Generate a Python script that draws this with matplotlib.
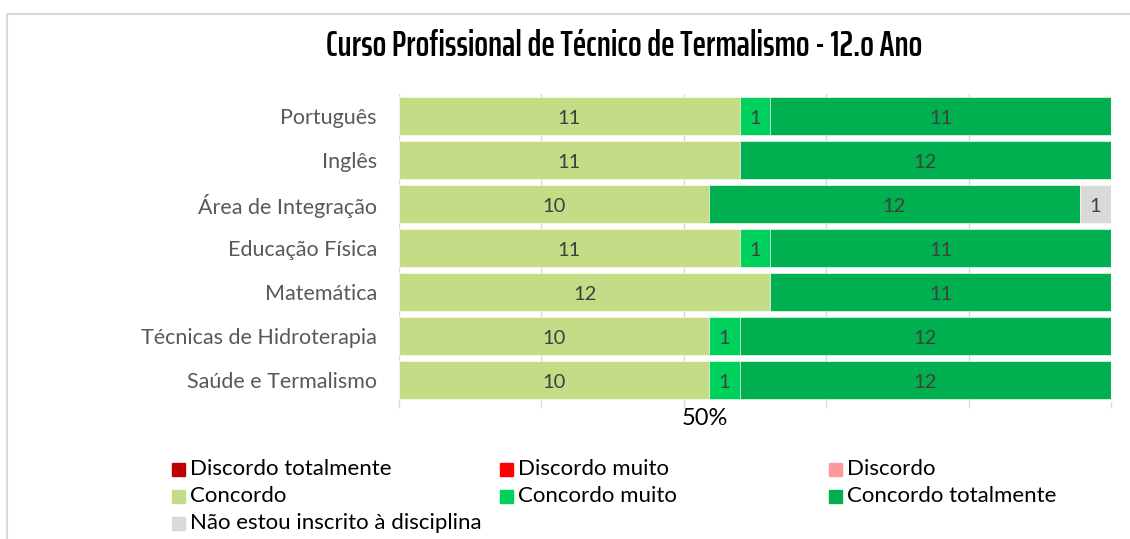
import matplotlib.pyplot as plt
import matplotlib.patches as patches
from matplotlib import font_manager
from matplotlib.textpath import TextToPath
import numpy as np

plt.rcParams['font.family'] = ['Lato', 'DejaVu Sans']

subjects = ['Português', 'Inglês', 'Área de Integração', 'Educação Física',
            'Matemática', 'Técnicas de Hidroterapia', 'Saúde e Termalismo']

series_names = ['Discordo totalmente', 'Discordo muito', 'Discordo',
                'Concordo', 'Concordo muito', 'Concordo totalmente',
                'Não estou inscrito à disciplina']
discordo_totalmente = [0, 0, 0, 0, 0, 0, 0]
discordo_muito = [0, 0, 0, 0, 0, 0, 0]
discordo = [0, 0, 0, 0, 0, 0, 0]
concordo = [11, 11, 10, 11, 12, 10, 10]
concordo_muito = [1, 0, 0, 1, 0, 1, 1]
concordo_totalmente = [11, 12, 12, 11, 11, 12, 12]
nao_inscrito = [0, 0, 1, 0, 0, 0, 0]

colors = ['#C00000', '#FF0000', '#FF9999', '#C3DC85', '#00D05C', '#00B050', '#D9D9D9']

title_text = 'Curso Profissional de Técnico de Termalismo - 12.o Ano'

counts = np.array([discordo_totalmente, discordo_muito, discordo, concordo,
                   concordo_muito, concordo_totalmente, nao_inscrito], dtype=float)
totals = counts.sum(axis=0)
shares = counts / totals


def _weight(f):
    w = f.weight
    if isinstance(w, str):
        w = {'bold': 700, 'heavy': 800, 'black': 900}.get(w.lower(), 400)
    return w


# narrowest bold condensed face available for the title, else Roboto bold
narrow = [f for f in font_manager.fontManager.ttflist
          if ('narrow' in f.name.lower() or 'condensed' in f.name.lower())
          and f.style == 'normal' and _weight(f) >= 600]
if narrow:
    t2p = TextToPath()

    def _width(f):
        prop = font_manager.FontProperties(fname=f.fname, size=20)
        return t2p.get_text_width_height_descent(title_text, prop, ismath=False)[0]
    best = min(narrow, key=_width)
    tprops = font_manager.FontProperties(fname=best.fname, size=25)
else:
    tprops = font_manager.FontProperties(family='Roboto', weight='bold', size=25)

W, H = 1130, 539
fig = plt.figure(figsize=(W / 100, H / 100), dpi=100)

# light frame around the chart area
fig.add_artist(patches.Rectangle((7 / W, -0.05), 1.1, 1 - 14 / H + 0.05,
                                 transform=fig.transFigure, fill=False,
                                 edgecolor='#D9D9D9', linewidth=1.5))

ax = fig.add_axes([399 / W, 1 - 402 / H, 712 / W, 308 / H])
y = np.arange(len(subjects))
left = np.zeros(len(subjects))
for name, share, count, color in zip(series_names, shares, counts, colors):
    ax.barh(y, share, left=left, height=0.86, color=color,
            edgecolor='white', linewidth=0.4, zorder=2)
    for yi, l, s, c in zip(y, left, share, count):
        if c > 0:
            ax.text(l + s / 2, yi + 0.05, f'{int(c)}', ha='center', va='center',
                    fontsize=14.5, color='#404040', zorder=3)
    left += share

ax.set_xlim(0, 1)
ax.set_ylim(len(subjects) - 0.5, -0.5)
ax.set_xticks(np.linspace(0, 1, 6))
ax.set_xticklabels([])
ax.xaxis.grid(True, color='#D9D9D9', linewidth=1, zorder=0)
ax.tick_params(axis='x', length=4, color='#D9D9D9', width=1)
ax.tick_params(axis='y', length=0, pad=16, labelsize=15.5, labelcolor='#595959')
ax.set_yticks(y)
ax.set_yticklabels(subjects)
for side in ax.spines.values():
    side.set_visible(False)
ax.text(0.43, -0.055, '50%', transform=ax.transAxes, ha='center', va='center',
        fontsize=17, color='black')

title = fig.text(624 / W, 1 - 46 / H, title_text,
                 ha='center', va='center', fontproperties=tprops, color='black')
fig.canvas.draw()
tw = title.get_window_extent().width
title.set_fontsize(25 * 596 / tw)

# legend laid out row by row in three columns
col_x = [172, 500, 829]
row_y = [469, 496, 523]
for i, (name, color) in enumerate(zip(series_names, colors)):
    cx = col_x[i % 3]
    cy = row_y[i // 3]
    fig.add_artist(patches.Rectangle((cx / W, 1 - (cy + 7) / H), 13 / W, 13 / H,
                                     transform=fig.transFigure, color=color))
    fig.text((cx + 18) / W, 1 - cy / H, name, ha='left', va='center',
             fontsize=16, color='black')

fig.savefig('out.png', dpi=100)
